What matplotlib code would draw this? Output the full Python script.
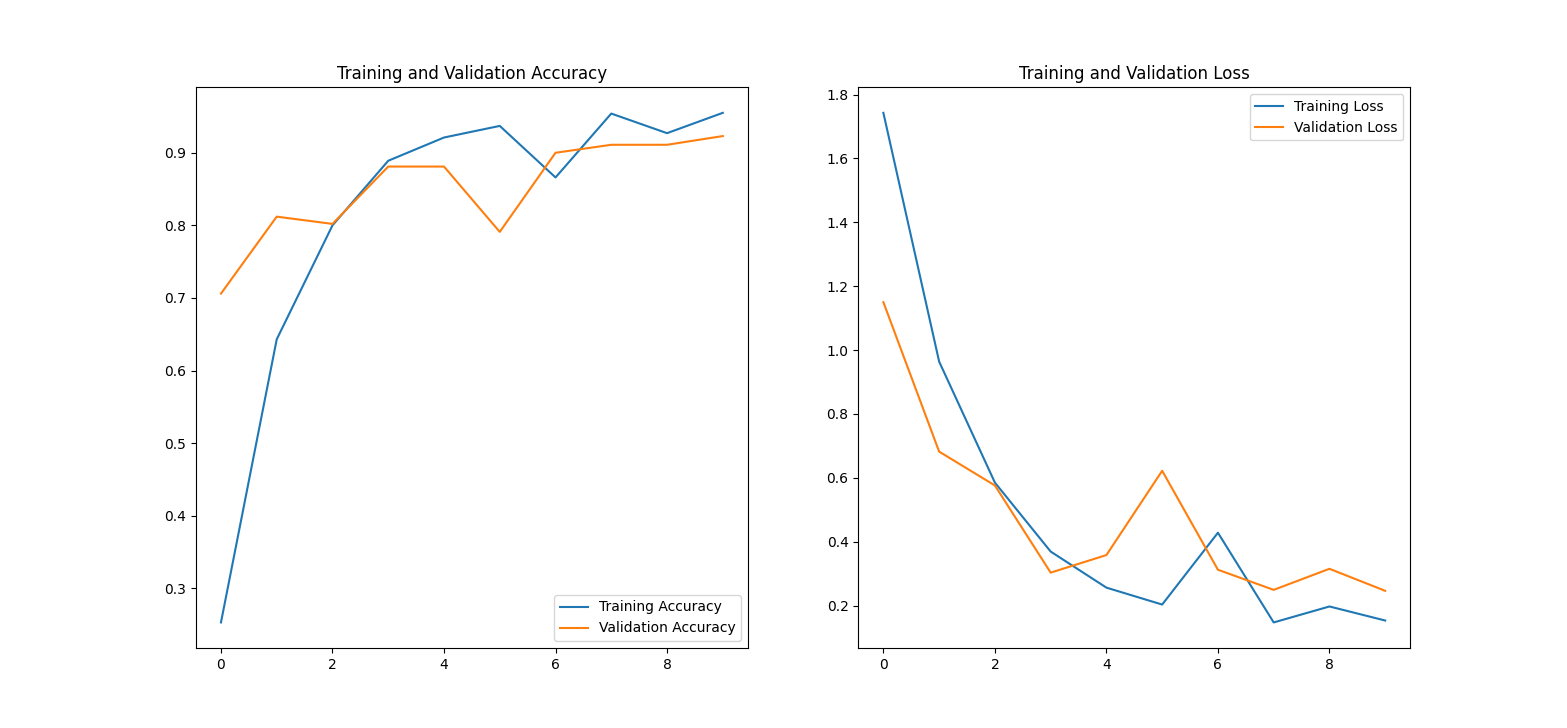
import matplotlib
matplotlib.use("Agg")
import matplotlib.pyplot as plt

epochs = list(range(10))
train_acc = [0.253, 0.643, 0.800, 0.889, 0.921, 0.937, 0.866, 0.954, 0.927, 0.955]
val_acc = [0.706, 0.812, 0.802, 0.881, 0.881, 0.791, 0.900, 0.911, 0.911, 0.923]
train_loss = [1.743, 0.964, 0.585, 0.369, 0.256, 0.203, 0.428, 0.147, 0.197, 0.153]
val_loss = [1.150, 0.682, 0.576, 0.303, 0.358, 0.622, 0.312, 0.249, 0.315, 0.246]

fig = plt.figure(figsize=(15.67, 7.28), dpi=100)

plt.subplot(1, 2, 1)
plt.plot(epochs, train_acc, label='Training Accuracy')
plt.plot(epochs, val_acc, label='Validation Accuracy')
plt.legend(loc='lower right')
plt.title('Training and Validation Accuracy')

plt.subplot(1, 2, 2)
plt.plot(epochs, train_loss, label='Training Loss')
plt.plot(epochs, val_loss, label='Validation Loss')
plt.legend(loc='upper right')
plt.title('Training and Validation Loss')

fig.savefig('out.png', dpi=100)
